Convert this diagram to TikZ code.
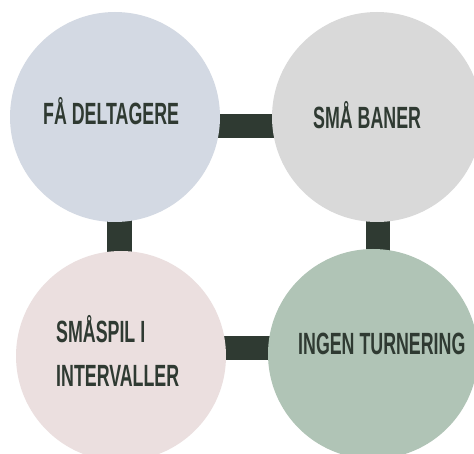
\documentclass[tikz,border=0pt]{standalone}
\usepackage{fontspec}
\setmainfont{Liberation Sans}
\usetikzlibrary{backgrounds}
\definecolor{ink}{HTML}{2F3A32}
\definecolor{cblue}{HTML}{D3D9E3}
\definecolor{cgray}{HTML}{D9D9D9}
\definecolor{cpink}{HTML}{EBDFDF}
\definecolor{cgreen}{HTML}{B0C4B6}
% condensed capitals: bold sans squeezed horizontally
\newcommand{\condtext}[1]{\scalebox{0.58}[1]{\bfseries #1}}
\begin{document}
\begin{tikzpicture}[x=1pt,y=-1pt,
  disc/.style={circle,draw=none,minimum size=210pt,inner sep=0pt},
  bar/.style={draw=ink,line width=24.5pt,line cap=butt},
  label/.style={anchor=base west,inner sep=0pt,text=ink,font=\fontsize{30.7pt}{44pt}\selectfont}]
\useasboundingbox (0,0) rectangle (474,454);
% circles
\node[disc,fill=cblue]  (tl) at (115,117) {};
\node[disc,fill=cgray]  (tr) at (377,117) {};
\node[disc,fill=cpink]  (bl) at (121,356) {};
\node[disc,fill=cgreen] (br) at (373,354) {};
% white page and connecting bars behind the circles
\begin{scope}[on background layer]
  \fill[white] (0,0) rectangle (474,454);
  \draw[bar] ([yshift=-9pt]tl.center) -- ([yshift=-9pt]tr.center);
  \draw[bar] ([xshift=4.5pt]tl.center) -- ([xshift=-1.5pt]bl.center);
  \draw[bar] ([xshift=1pt]tr.center) -- ([xshift=5pt]br.center);
  \draw[bar] ([yshift=8pt]bl.center) -- ([yshift=6pt]br.center);
\end{scope}
% texts
\node[label] (tltext) at (43,125) {\condtext{FÅ DELTAGERE}};
\node[label] (trtext) at (313,129) {\condtext{SMÅ BANER}};
\node[label] (bltext1) at (56,342) {\condtext{SMÅSPIL I}};
\node[label] (bltext2) at (56,386) {\condtext{INTERVALLER}};
\node[label] (brtext) at (298,355) {\condtext{INGEN TURNERING}};
\end{tikzpicture}
\end{document}
